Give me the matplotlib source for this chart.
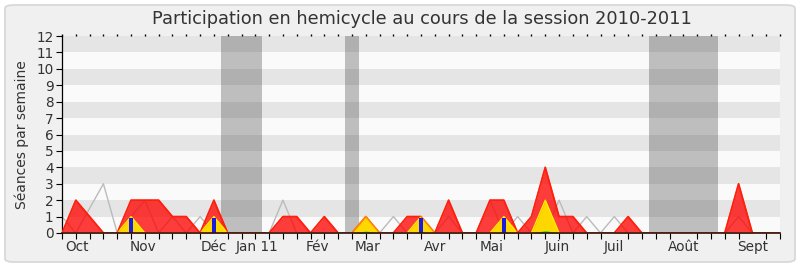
import matplotlib
matplotlib.use("Agg")
import matplotlib.pyplot as plt
from matplotlib.patches import FancyBboxPatch
import numpy as np

# une valeur par semaine, de fin septembre 2010 a septembre 2011
semaines = np.arange(53)
presences = [0, 2, 1, 0, 0, 2, 2, 2, 1, 1, 0, 2, 0, 0, 0, 0, 1, 1, 0, 1,
             0, 0, 1, 0, 0, 1, 1, 0, 2, 0, 0, 2, 2, 0, 1, 4, 1, 1, 0, 0,
             0, 1, 0, 0, 0, 0, 0, 0, 0, 3, 0, 0, 0]
mediane = [1, 0, 1.5, 3, 0, 1, 2, 0, 1, 0, 1, 0, 0, 0, 0, 0, 2, 0, 0, 0,
           0, 0, 0, 0, 1, 0, 0, 0, 1, 0, 0, 2, 0, 1, 0, 0, 2, 0, 1, 0,
           1, 0, 0, 0, 0, 0, 0, 0, 0, 1, 0, 0, 0]
interventions = [0, 0, 0, 0, 0, 1, 0, 0, 0, 0, 0, 1, 0, 0, 0, 0, 0, 0, 0, 0,
                 0, 0, 1, 0, 0, 0, 1, 0, 0, 0, 0, 0, 1, 0, 0, 2, 0, 0, 0, 0,
                 0, 0, 0, 0, 0, 0, 0, 0, 0, 0, 0, 0, 0]
commission = [0, 0, 0, 0, 0, 0, 0, 0, 0, 0, 0, 0, 0, 0, 0, 0, 0, 0, 0, 0,
              0, 0, 0.12, 0, 0, 0, 0.05, 0, 0, 0, 0, 0, 0.05, 0, 0, 0.15, 0, 0, 0, 0,
              0, 0, 0, 0, 0, 0, 0, 0, 0, 0, 0, 0, 0]
questions_sem = [5, 11, 26, 32]
questions_val = [0.9, 0.9, 0.9, 0.9]

vacances = [(11.5, 14.5), (20.5, 21.5), (42.5, 47.5)]
mois_pos = [1.1, 5.9, 11.0, 14.1, 18.5, 22.1, 27.0, 31.1, 35.9, 40.0, 45.0, 50.0]
mois_noms = ["Oct", "Nov", "Déc", "Jan 11", "Fév", "Mar", "Avr", "Mai",
             "Juin", "Juil", "Août", "Sept"]

plt.rcParams['font.family'] = ['DejaVu Sans']
fig = plt.figure(figsize=(8, 2.67), dpi=100, facecolor='white')

# cadre arrondi du graphique
cadre = FancyBboxPatch((5 / 800, 5 / 267), 790 / 800, 257 / 267,
                       boxstyle="round,pad=0,rounding_size=0.012",
                       transform=fig.transFigure, facecolor='#f0f0f0',
                       edgecolor='#d6d6d6', linewidth=1.2, zorder=-10)
fig.patches.append(cadre)

ax = fig.add_axes([62 / 800, 1 - 233 / 267, 718 / 800, 197 / 267])
ax.set_facecolor('#fafafa')

for y in range(12):
    ax.axhspan(y, y + 1, color='#fafafa' if y % 2 == 0 else '#e5e5e5',
               lw=0, zorder=0)
for debut, fin in vacances:
    ax.axvspan(debut, fin, color='#464646', alpha=0.33, lw=0, zorder=1)

ax.plot(semaines, mediane, color='#bbbbbb', lw=1, zorder=2)
ax.fill_between(semaines, presences, color='#ff0000', alpha=0.76, lw=0, zorder=3)
ax.plot(semaines, presences, color='#ff1010', lw=1.2, zorder=3)
ax.fill_between(semaines, interventions, color='#ffd700', lw=0, zorder=4)
ax.plot(semaines, interventions, color='#ffee00', lw=1, zorder=4)
# le contour rouge reste visible par-dessus le jaune
ax.plot(semaines, presences, color='#ff3000', lw=1, alpha=0.55, zorder=4.5)
ax.fill_between(semaines, commission, color='#22dd22', lw=0, zorder=5)
ax.bar(questions_sem, questions_val, width=0.3, color='#1c1cdc', lw=0, zorder=6)

ax.set_xlim(0, 52)
ax.set_ylim(0, 12)
ax.set_yticks(range(13))
ax.set_xticks(mois_pos)
ax.set_xticklabels(mois_noms)
ax.set_xticks(semaines, minor=True)
ax.tick_params(axis='x', which='major', length=0, pad=5, labelsize=9.8,
               labelcolor='#333333')
ax.tick_params(axis='x', which='minor', length=4, width=0.8, direction='out')
ax.tick_params(axis='y', length=4, width=0.8, pad=2, labelsize=9.8,
               labelcolor='#333333')
for s in ['top', 'right']:
    ax.spines[s].set_visible(False)
ax.spines['left'].set_linewidth(0.9)
ax.spines['bottom'].set_linewidth(1.2)
ax.spines['bottom'].set_color('#301010')
ax.spines['bottom'].set_zorder(7)

# petits reperes hebdomadaires en haut
haut = ax.secondary_xaxis('top')
haut.set_xticks(semaines)
haut.tick_params(length=1.5, width=1, labeltop=False)
haut.spines['top'].set_visible(False)

ax.set_ylabel("Séances par semaine", fontsize=10, color='#333333', labelpad=5)
fig.text(0.527, 1 - 19 / 267, "Participation en hemicycle au cours de la session 2010-2011",
         ha='center', va='center', fontsize=12.8, color='#333333')

fig.savefig("out.png", dpi=100, facecolor='white')
